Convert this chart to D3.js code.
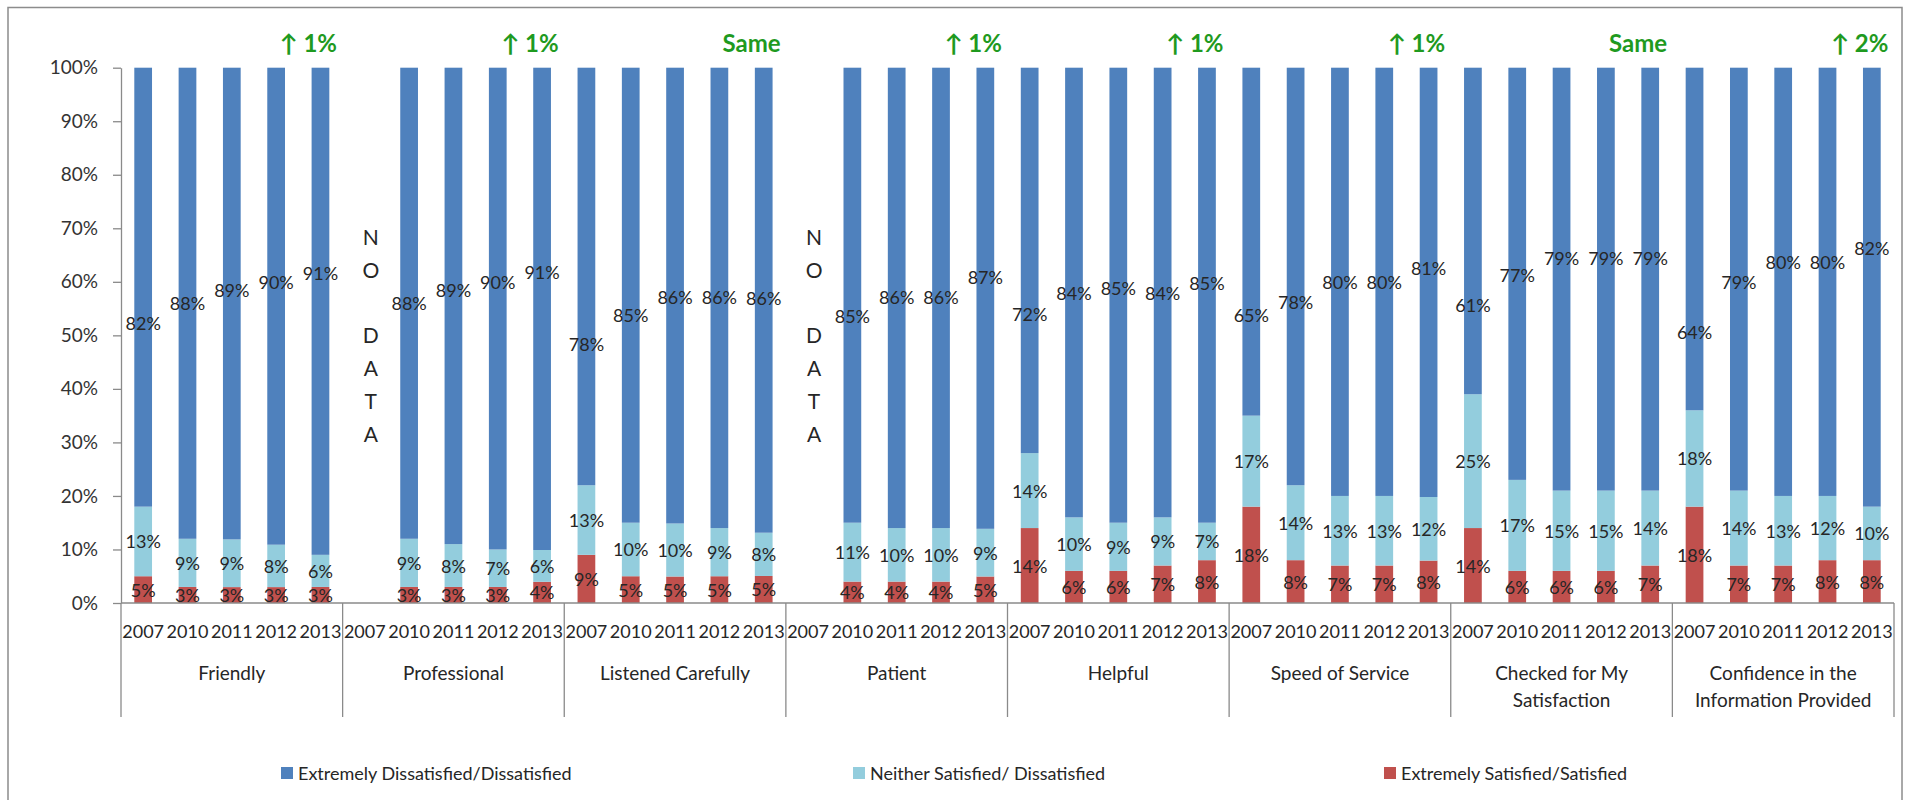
<!DOCTYPE html>
<html>
<head>
<meta charset="utf-8">
<script src="https://cdn.jsdelivr.net/npm/d3@7"></script>
<style>
  html, body { margin: 0; padding: 0; background: #fff; }
  svg { display: block; font-family: Lato, "Open Sans", sans-serif; }
</style>
</head>
<body>
<svg id="chart" width="1908" height="800"></svg>
<script>
// ---- data ----
const categories = ["Friendly", "Professional", "Listened Carefully", "Patient", "Helpful",
  "Speed of Service", "Checked for My Satisfaction", "Confidence in the Information Provided"];
const years = ["2007", "2010", "2011", "2012", "2013"];
const seriesNames = ["Extremely Dissatisfied/Dissatisfied", "Neither Satisfied/ Dissatisfied", "Extremely Satisfied/Satisfied"];

// percent values per category, one entry per year (null = not surveyed)
const dissatisfied = [
  [82, 88, 89, 90, 91],
  [null, 88, 89, 90, 91],
  [78, 85, 86, 86, 86],
  [null, 85, 86, 86, 87],
  [72, 84, 85, 84, 85],
  [65, 78, 80, 80, 81],
  [61, 77, 79, 79, 79],
  [64, 79, 80, 80, 82]
];
const neither = [
  [13, 9, 9, 8, 6],
  [null, 9, 8, 7, 6],
  [13, 10, 10, 9, 8],
  [null, 11, 10, 10, 9],
  [14, 10, 9, 9, 7],
  [17, 14, 13, 13, 12],
  [25, 17, 15, 15, 14],
  [18, 14, 13, 12, 10]
];
const satisfied = [
  [5, 3, 3, 3, 3],
  [null, 3, 3, 3, 4],
  [9, 5, 5, 5, 5],
  [null, 4, 4, 4, 5],
  [14, 6, 6, 7, 8],
  [18, 8, 7, 7, 8],
  [14, 6, 6, 6, 7],
  [18, 7, 7, 8, 8]
];
const changeNotes = ["\u2191 1%", "\u2191 1%", "Same", "\u2191 1%", "\u2191 1%", "\u2191 1%", "Same", "\u2191 2%"];
const yTicks = [0, 0.1, 0.2, 0.3, 0.4, 0.5, 0.6, 0.7, 0.8, 0.9, 1];

// height (in %) at which the value label of each top segment sits
const dissatLabelLevel = [
  [52.3, 56, 58.5, 60, 61.6],
  [null, 56, 58.5, 60, 61.8],
  [48.4, 53.8, 57.2, 57.2, 57],
  [null, 53.6, 57.2, 57.2, 60.9],
  [54, 57.9, 58.8, 57.9, 59.8],
  [53.8, 56.2, 60, 60, 62.6],
  [55.7, 61.3, 64.4, 64.4, 64.4],
  [50.7, 60, 63.7, 63.7, 66.3]
];

// ---- layout ----
const colors = ["#C0504D", "#93CDDD", "#4F81BD"]; // bottom -> top: satisfied, neither, dissatisfied
const axisColor = "#8a8a8a";
const textColor = "#262626";
const plot = { left: 121, right: 1894, top: 67.7, bottom: 603 };

const svg = d3.select("#chart");

// outer frame
svg.append("rect")
  .attr("x", 8).attr("y", 7.5).attr("width", 1894).attr("height", 820)
  .attr("fill", "none").attr("stroke", "#8c8c8c").attr("stroke-width", 1.5);

const y = d3.scaleLinear().domain([0, 1]).range([plot.bottom, plot.top]);
const xCat = d3.scaleBand().domain(categories).range([plot.left, plot.right]).padding(0);
const xYear = d3.scaleBand().domain(years).range([0, xCat.bandwidth()])
  .paddingInner(0.6).paddingOuter(0.3);

// rows: one per category/year, stacked bottom -> top
const rows = [];
categories.forEach((c, ci) => {
  years.forEach((yr, yi) => {
    const vals = [satisfied[ci][yi], neither[ci][yi], dissatisfied[ci][yi]];
    rows.push({ cat: c, ci, year: yr, yi, vals: vals.map(v => v == null ? 0 : v), missing: vals.some(v => v == null) });
  });
});

const stacked = d3.stack()
  .keys([0, 1, 2])
  .value((d, k) => d.vals[k])
  .offset(d3.stackOffsetExpand)(rows);

// y axis
const yAxis = svg.append("g")
  .attr("transform", `translate(${plot.left},0)`)
  .call(d3.axisLeft(y).tickValues(yTicks).tickFormat(d3.format(".0%"))
    .tickSize(8).tickSizeOuter(0).tickPadding(15));
yAxis.select(".domain").attr("stroke", axisColor).attr("stroke-width", 1.3);
yAxis.selectAll(".tick line").attr("stroke", axisColor).attr("stroke-width", 1.3);
yAxis.selectAll(".tick text").attr("font-size", 19).attr("fill", "#333").attr("font-family", "Lato, sans-serif");

// bars
const barG = svg.append("g");
stacked.forEach((layer, k) => {
  barG.selectAll(null)
    .data(layer.filter(s => !s.data.missing))
    .join("rect")
    .attr("x", s => xCat(s.data.cat) + xYear(s.data.year))
    .attr("width", xYear.bandwidth())
    .attr("y", s => y(s[1]))
    .attr("height", s => y(s[0]) - y(s[1]))
    .attr("fill", colors[k]);
});

// value labels
const labG = svg.append("g")
  .attr("font-size", 18).attr("fill", textColor)
  .attr("text-anchor", "middle").attr("dominant-baseline", "central");
stacked.forEach((layer, k) => {
  labG.selectAll(null)
    .data(layer.filter(s => !s.data.missing))
    .join("text")
    .attr("x", s => xCat(s.data.cat) + xYear(s.data.year) + xYear.bandwidth() / 2)
    .attr("y", s => k === 2
      ? y(dissatLabelLevel[s.data.ci][s.data.yi] / 100)
      : y((s[0] + s[1]) / 2))
    .text(s => s.data.vals[k] + "%");
});

// category axis: baseline and group separators
svg.append("line")
  .attr("x1", plot.left).attr("x2", plot.right)
  .attr("y1", plot.bottom).attr("y2", plot.bottom)
  .attr("stroke", axisColor).attr("stroke-width", 1.3);
const bounds = categories.map(c => xCat(c)).concat([plot.right]);
svg.append("g").selectAll("line").data(bounds).join("line")
  .attr("x1", d => d).attr("x2", d => d)
  .attr("y1", plot.bottom).attr("y2", 717)
  .attr("stroke", axisColor).attr("stroke-width", 1.3);

// year labels under each group
categories.forEach(c => {
  const g = svg.append("g")
    .attr("transform", `translate(${xCat(c)},${plot.bottom})`)
    .call(d3.axisBottom(xYear).tickSize(0).tickPadding(22.5));
  g.select(".domain").remove();
  g.selectAll("text").attr("font-size", 18).attr("fill", textColor).attr("font-family", "Lato, sans-serif");
});

// category names, wrapped to the group width
const catG = svg.append("g").attr("font-size", 19).attr("fill", textColor).attr("text-anchor", "middle");
categories.forEach(c => {
  const t = catG.append("text").attr("x", xCat(c) + xCat.bandwidth() / 2).attr("y", 680);
  const words = c.split(" ");
  let line = [], lineNo = 0;
  let tspan = t.append("tspan").attr("x", xCat(c) + xCat.bandwidth() / 2).attr("dy", 0);
  words.forEach(w => {
    line.push(w);
    tspan.text(line.join(" "));
    if (tspan.node().getComputedTextLength() > 200 && line.length > 1) {
      line.pop();
      tspan.text(line.join(" "));
      line = [w];
      lineNo++;
      tspan = t.append("tspan").attr("x", xCat(c) + xCat.bandwidth() / 2).attr("dy", 27).text(w);
    }
  });
});

// "NO DATA" for categories without a 2007 survey
const noDataLetters = ["N", "O", "", "D", "A", "T", "A"];
categories.forEach((c, ci) => {
  if (dissatisfied[ci][0] != null) return;
  const cx = xCat(c) + xYear("2007") + xYear.bandwidth() / 2 + 6;
  const t = svg.append("text").attr("x", cx).attr("y", y(0.685))
    .attr("font-size", 21).attr("fill", textColor).attr("text-anchor", "middle")
    .attr("dominant-baseline", "central");
  noDataLetters.forEach((L, i) => {
    t.append("tspan").attr("x", cx).attr("dy", i === 0 ? 0 : 32.7).text(L || "\u00a0");
  });
});

// change notes above each group
svg.append("g").selectAll("text").data(categories).join("text")
  .attr("x", c => xCat(c) + (xYear("2012") + xYear("2013")) / 2 + xYear.bandwidth() / 2 + 10)
  .attr("y", 52)
  .attr("text-anchor", "middle")
  .attr("font-size", 24).attr("font-weight", "bold").attr("fill", "#1f9a1f")
  .text((c, i) => changeNotes[i]);

// legend
const legendX = [281, 853, 1384];
const legendOrder = [2, 1, 0]; // colour index for each legend entry
const leg = svg.append("g").attr("font-size", 18).attr("fill", textColor);
seriesNames.forEach((name, i) => {
  const g = leg.append("g").attr("transform", `translate(${legendX[i]},773)`);
  g.append("rect").attr("x", 0).attr("y", -6).attr("width", 12).attr("height", 12)
    .attr("fill", colors[legendOrder[i]]);
  g.append("text").attr("x", 17).attr("y", 0).attr("dominant-baseline", "central").text(name);
});
</script>
</body>
</html>
